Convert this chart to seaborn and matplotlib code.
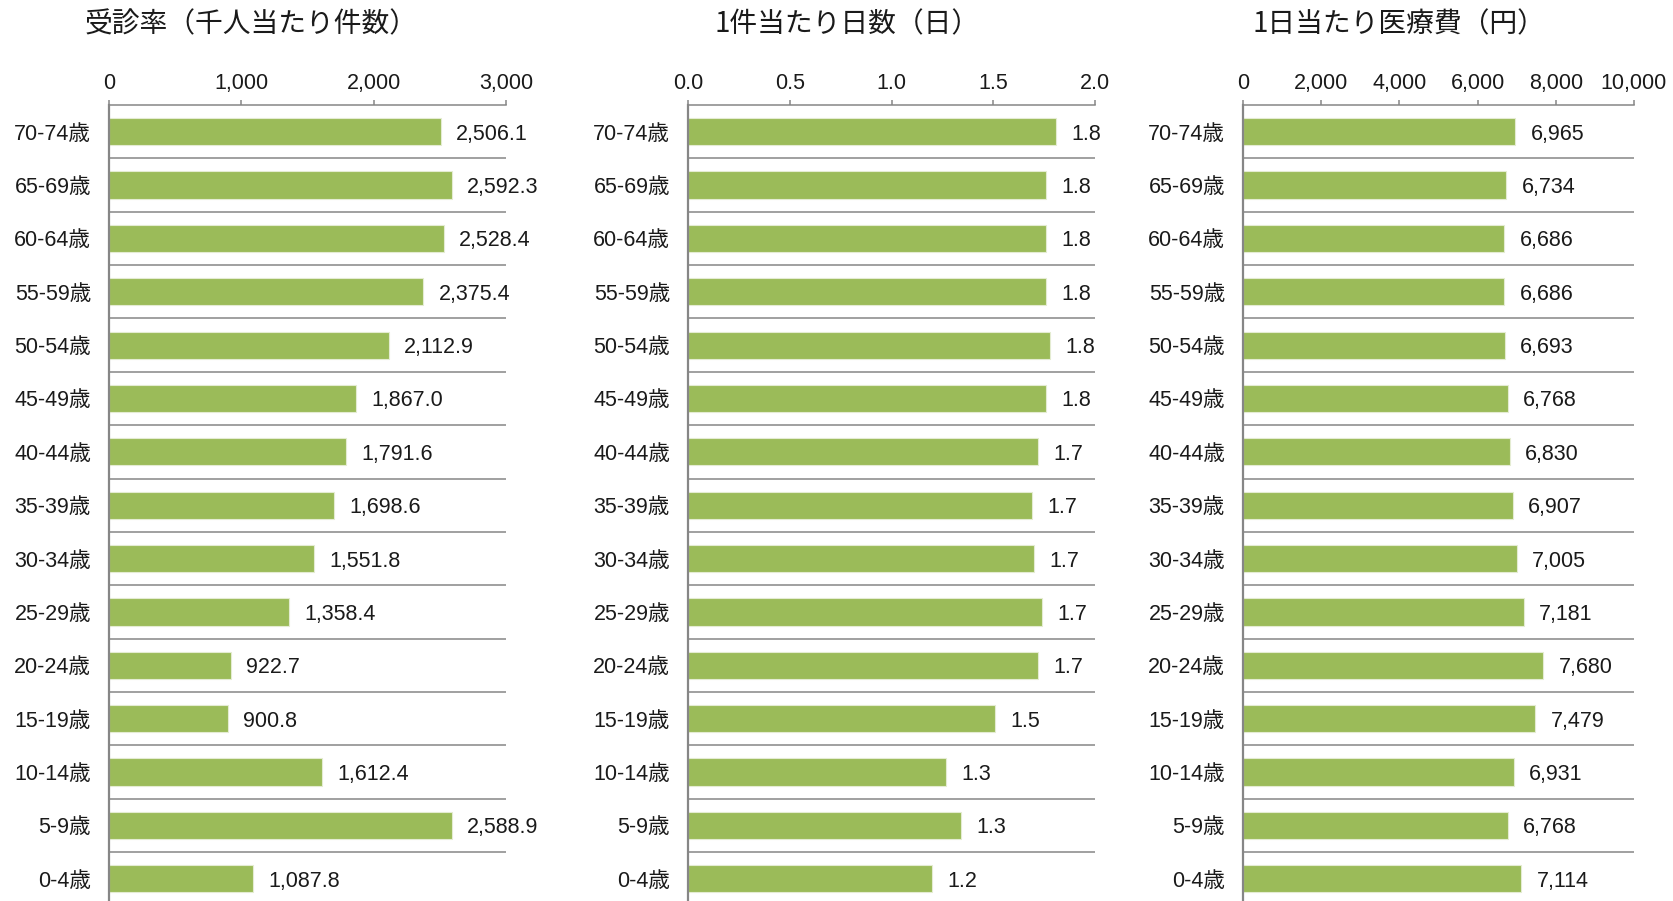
import matplotlib
matplotlib.use("Agg")
import matplotlib.pyplot as plt
import seaborn as sns
import pandas as pd

# age groups, top to bottom as drawn
ages = ["70-74歳", "65-69歳", "60-64歳", "55-59歳", "50-54歳", "45-49歳", "40-44歳",
        "35-39歳", "30-34歳", "25-29歳", "20-24歳", "15-19歳", "10-14歳", "5-9歳", "0-4歳"]

# 受診率 (千人当たり件数)
jushin = [2506.1, 2592.3, 2528.4, 2375.4, 2112.9, 1867.0, 1791.6,
          1698.6, 1551.8, 1358.4, 922.7, 900.8, 1612.4, 2588.9, 1087.8]
# 1件当たり日数 (日), shown rounded to 1 decimal
nissu = [1.81, 1.76, 1.76, 1.76, 1.78, 1.76, 1.72,
         1.69, 1.70, 1.74, 1.72, 1.51, 1.27, 1.34, 1.20]
# 1日当たり医療費 (円)
iryohi = [6965, 6734, 6686, 6686, 6693, 6768, 6830,
          6907, 7005, 7181, 7680, 7479, 6931, 6768, 7114]

titles = ["受診率（千人当たり件数）", "1件当たり日数（日）", "1日当たり医療費（円）"]
xlims = [3000, 2.0, 10000]
xticks = [[0, 1000, 2000, 3000], [0, 0.5, 1.0, 1.5, 2.0], [0, 2000, 4000, 6000, 8000, 10000]]
tick_fmt = ["{:,.0f}", "{:.1f}", "{:,.0f}"]
val_fmt = ["{:,.1f}", "{:.1f}", "{:,.0f}"]

sns.set_theme(style="white")
plt.rcParams["font.family"] = ["Liberation Sans", "Noto Sans CJK JP"]

W, H = 1673, 901
fig = plt.figure(figsize=(W / 100, H / 100), dpi=100)

bar_color = "#9BBB59"
line_color = "#868686"
txt = "#1a1a1a"
fs = 15.5

# axes boxes in pixels: left, right ; top/bottom shared
boxes = [(109, 506), (688, 1095), (1243, 1634)]
title_x = [251, 847, 1399]
top_px, bot_px = 105, 905.4

for i, (vals, (l, r)) in enumerate(zip([jushin, nissu, iryohi], boxes)):
    ax = fig.add_axes([l / W, 1 - bot_px / H, (r - l) / W, (bot_px - top_px) / H])
    df = pd.DataFrame({"age": ages, "value": vals})
    sns.barplot(data=df, x="value", y="age", orient="h", color=bar_color,
                width=0.51, saturation=1, edgecolor="#e4ecd2", linewidth=0.8, ax=ax)
    ax.set_xlim(0, xlims[i])
    ax.set_ylim(len(ages) - 0.5, -0.5)
    ax.set_xlabel("")
    ax.set_ylabel("")

    # x axis on top
    ax.xaxis.tick_top()
    ax.set_xticks(xticks[i])
    ax.set_xticklabels([tick_fmt[i].format(t) for t in xticks[i]], fontsize=fs, color=txt)
    ax.tick_params(axis="x", direction="out", length=3.6, width=1.1, color=line_color, pad=4.5)

    # category separators
    ax.set_yticks([k - 0.5 for k in range(1, len(ages))], minor=True)
    ax.tick_params(axis="y", which="minor", direction="out", length=4.3, width=1.1, color=line_color)
    ax.tick_params(axis="y", which="major", length=0, pad=13, labelsize=fs, labelcolor=txt)
    ax.grid(axis="y", which="minor", color=line_color, linewidth=1.1)
    ax.grid(axis="y", which="major", visible=False)
    ax.grid(axis="x", visible=False)

    for s in ["right", "bottom"]:
        ax.spines[s].set_visible(False)
    ax.spines["left"].set_color(line_color)
    ax.spines["left"].set_linewidth(1.6)
    ax.spines["top"].set_color(line_color)
    ax.spines["top"].set_linewidth(1.1)

    labels = ax.bar_label(ax.containers[0], labels=[val_fmt[i].format(v) for v in vals],
                          padding=11, fontsize=fs, color=txt)
    for t in labels:
        t.set_va("center_baseline")

    fig.text(title_x[i] / W, 1 - 24 / H, titles[i], ha="center", va="center",
             fontsize=20, family=["Noto Sans CJK JP"], color=txt)

fig.savefig("out.png", dpi=100)
